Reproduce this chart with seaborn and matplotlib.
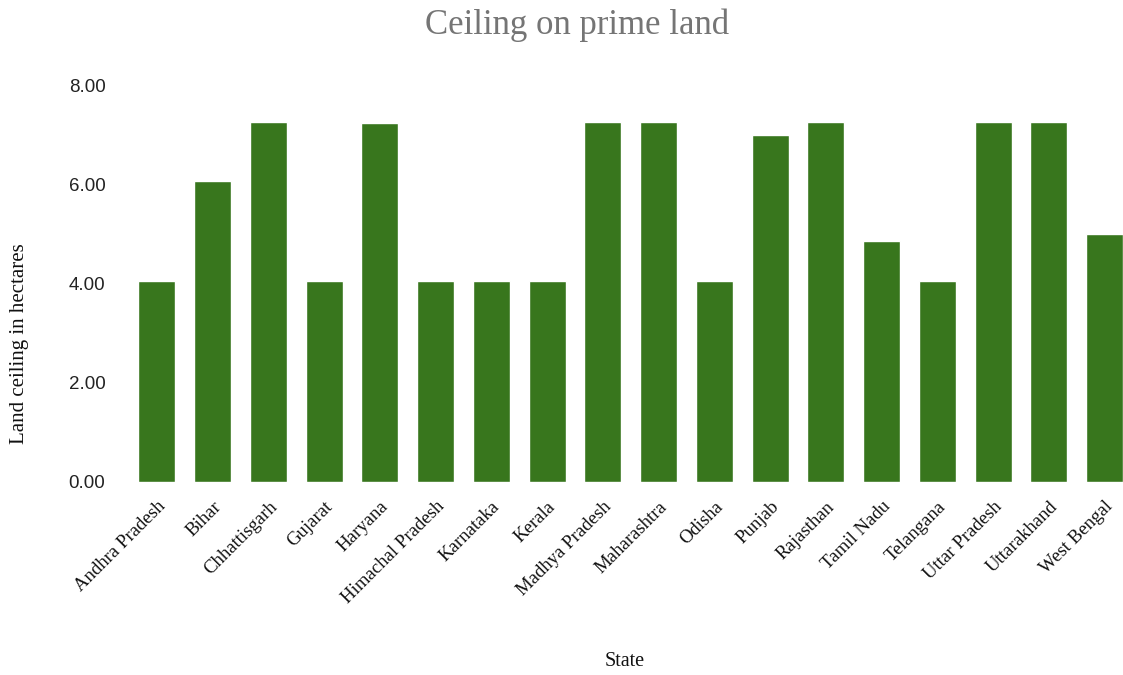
import matplotlib
matplotlib.use("Agg")
import matplotlib.pyplot as plt
import seaborn as sns
import pandas as pd
from matplotlib.ticker import FormatStrFormatter

states = [
    "Andhra Pradesh", "Bihar", "Chhattisgarh", "Gujarat", "Haryana",
    "Himachal Pradesh", "Karnataka", "Kerala", "Madhya Pradesh", "Maharashtra",
    "Odisha", "Punjab", "Rajasthan", "Tamil Nadu", "Telangana",
    "Uttar Pradesh", "Uttarakhand", "West Bengal",
]
ceiling_ha = [
    4.05, 6.07, 7.28, 4.05, 7.25,
    4.05, 4.05, 4.05, 7.28, 7.28,
    4.05, 7.00, 7.28, 4.86, 4.05,
    7.28, 7.28, 5.00,
]
y_ticks = [0, 2, 4, 6, 8]

df = pd.DataFrame({"State": states, "Ceiling": ceiling_ha})

sns.set_theme(style="white")
serif = ["Liberation Serif", "DejaVu Serif"]
sans = ["Liberation Sans", "DejaVu Sans"]

W, H = 1123, 675
fig = plt.figure(figsize=(W / 100, H / 100), dpi=100)
left, right, bottom, top = 129, 1123, 481.5, 86
ax = fig.add_axes([left / W, (H - bottom) / H, (right - left) / W, (bottom - top) / H])

sns.barplot(data=df, x="State", y="Ceiling", color="#38761d", saturation=1,
            width=0.665, ax=ax)

ax.set_xlim(-0.5, 17.33)
ax.set_ylim(0, 8)
ax.set_yticks(y_ticks)
ax.yaxis.set_major_formatter(FormatStrFormatter("%.2f"))
ax.tick_params(axis="y", length=0, pad=17, labelsize=13.5, labelcolor="#222222")
ax.tick_params(axis="x", length=0, pad=12)
for lbl in ax.get_yticklabels():
    lbl.set_family(sans)
ax.set_xticks(range(len(states)))
ax.set_xticklabels(states, rotation=45, ha="right", rotation_mode="anchor",
                   family=serif, fontsize=13.5, color="#111111")
for s in ax.spines.values():
    s.set_visible(False)
ax.grid(False)
ax.set_xlabel("")
ax.set_ylabel("")

fig.text(577 / W, 1 - 25 / H, "Ceiling on prime land", ha="center", va="center",
         family=serif, fontsize=25, color="#757575")
fig.text(20 / W, 1 - 344 / H, "Land ceiling in hectares", rotation=90,
         ha="center", va="center", family=serif, fontsize=15, color="#111111")
fig.text(625 / W, 1 - 662 / H, "State", ha="center", va="center",
         family=serif, fontsize=14.5, color="#111111")

fig.savefig("out.png", dpi=100)
